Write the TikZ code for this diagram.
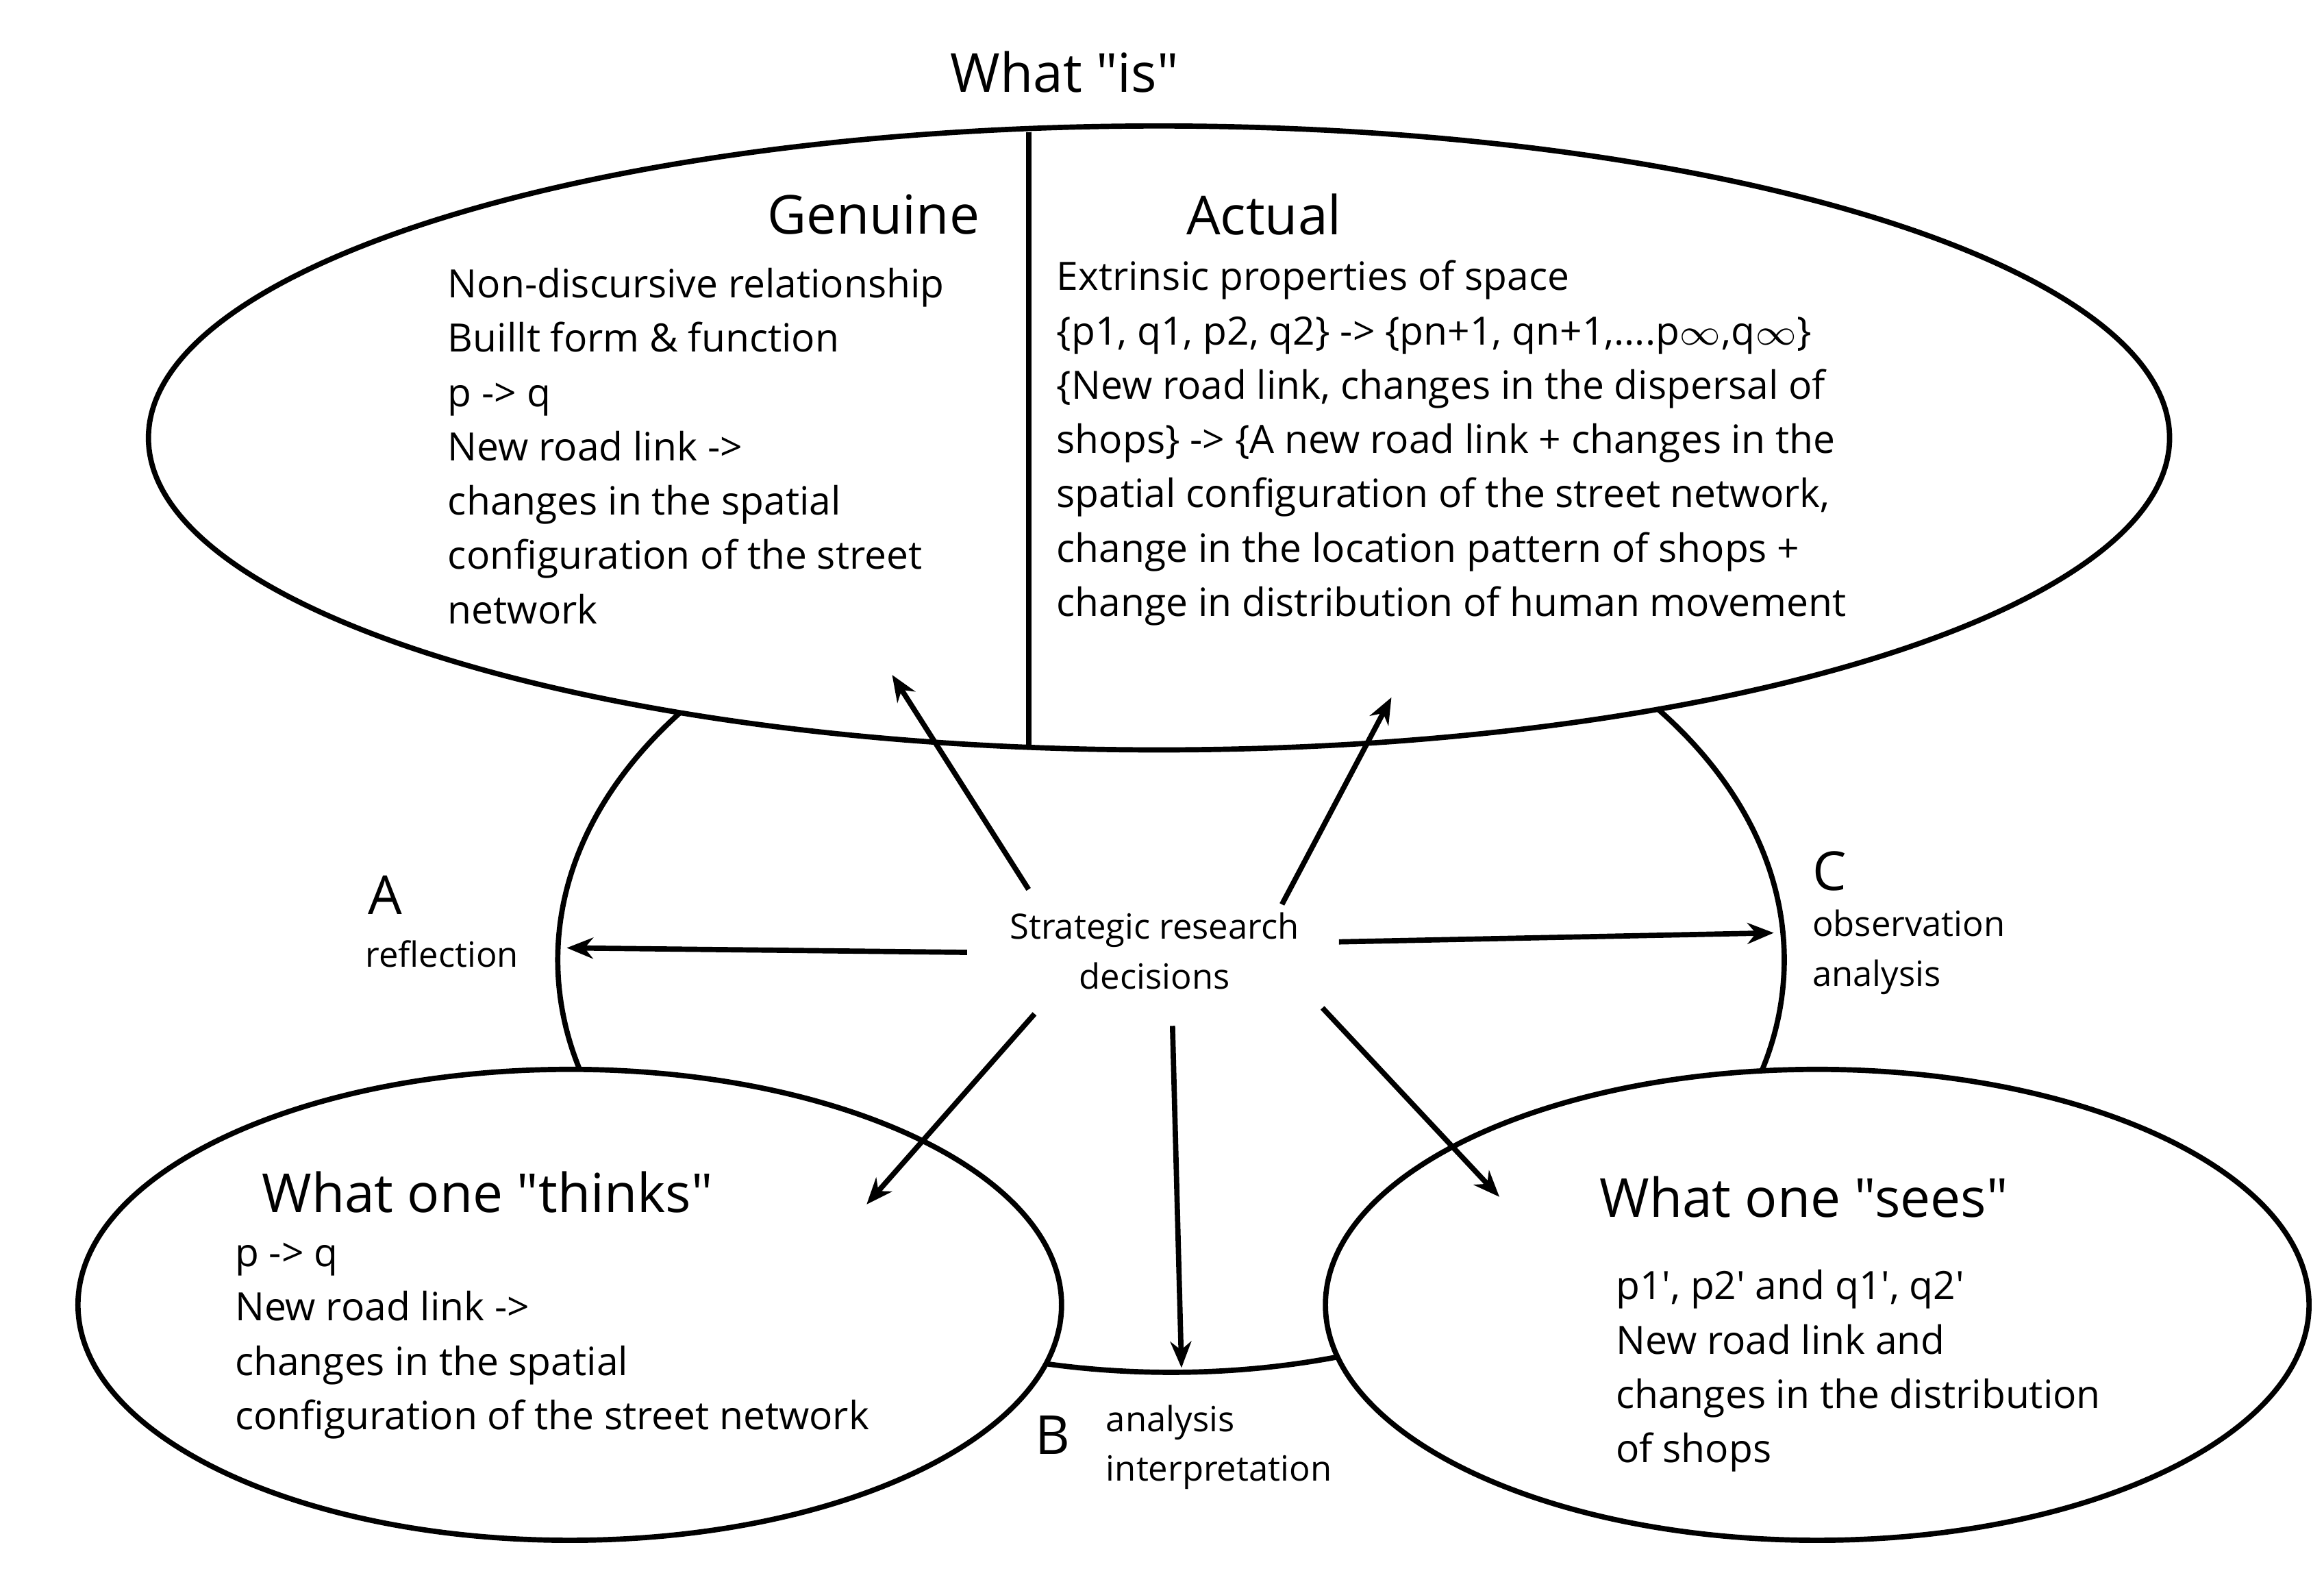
\documentclass[tikz,border=0pt]{standalone}
\usepackage{fontspec}
\setmainfont{Open Sans}[Ligatures=TeXOff]
\usetikzlibrary{positioning,arrows.meta}
\newcommand{\dq}{\symbol{34}}
\newcommand{\sq}{\symbol{39}}
\begin{document}
\begin{tikzpicture}[line width=1pt,
    txt/.style={font=\fontsize{7.4}{10.3}\selectfont,align=left,inner sep=0pt},
    head/.style={font=\fontsize{10.2}{12}\selectfont,inner sep=0pt},
    lbl/.style={font=\fontsize{6.6}{9.4}\selectfont,align=left,inner sep=0pt},
    arr/.style={-{Stealth[length=5pt,width=4pt]},line width=1pt}]
\useasboundingbox (0,0) rectangle (15.5,-10.46);
% the ellipses
\draw (7.81,-6.40) ellipse (4.09 and 2.75);
\draw[fill=white] (7.73,-2.92) ellipse (6.74 and 2.08);
\draw (6.86,-0.88) -- (6.86,-4.98);
\draw[fill=white] (3.80,-8.70) ellipse (3.28 and 1.57);
\draw[fill=white] (12.12,-8.70) ellipse (3.28 and 1.57);
% headings
\node[head] (is) at (7.10,-0.48) {What \dq is\dq};
\node[head,anchor=east] (genuine) at (6.55,-1.43) {Genuine};
\node[head] (actual) at (8.43,-1.43) {Actual};
\node[head] (thinks) at (3.25,-7.95) {What one \dq thinks\dq};
\node[head] (sees) at (12.03,-7.98) {What one \dq sees\dq};
% text blocks
\node[txt,anchor=north west] (gtext) at (2.97,-1.77) {Non-discursive relationship\\Buillt form \& function\\p -> q\\New road link ->\\changes in the spatial\\configuration of the street\\network};
\node[txt,anchor=north west] (atext) at (7.03,-1.72) {Extrinsic properties of space\\\{p1, q1, p2, q2\} -> \{pn+1, qn+1,....p$\infty$,q$\infty$\}\\\{New road link, changes in the dispersal of\\shops\} -> \{A new road link + changes in the\\spatial configuration of the street network,\\change in the location pattern of shops +\\change in distribution of human movement};
\node[txt,anchor=north west] (ttext) at (1.55,-8.27) {p -> q\\New road link ->\\changes in the spatial\\configuration of the street network};
\node[txt,anchor=north west] (stext) at (10.76,-8.45) {p1\sq, p2\sq\ and q1\sq, q2\sq\\New road link and\\changes in the distribution\\of shops};
% side labels
\node[head] (A) at (2.57,-5.97) {A};
\node[lbl,anchor=west] (refl) at (2.42,-6.36) {reflection};
\node[head,anchor=west] (C) at (12.07,-5.81) {C};
\node[lbl,anchor=north west] (obs) at (12.07,-6.05) {observation\\analysis};
\node[head] (B) at (7.02,-9.57) {B};
\node[lbl,anchor=north west] (ana) at (7.36,-9.35) {analysis\\interpretation};
\node[lbl,align=center] (sr) at (7.70,-6.34) {Strategic research\\decisions};
% arrows
\coordinate (g1) at (6.86,-5.93); \coordinate (g2) at (5.95,-4.50);
\coordinate (a1) at (8.55,-6.03); \coordinate (a2) at (9.28,-4.65);
\coordinate (r1) at (6.45,-6.35); \coordinate (r2) at (3.78,-6.32);
\coordinate (c1) at (8.93,-6.28); \coordinate (c2) at (11.83,-6.22);
\coordinate (t1) at (6.90,-6.76); \coordinate (t2) at (5.78,-8.03);
\coordinate (b1) at (7.82,-6.84); \coordinate (b2) at (7.88,-9.12);
\coordinate (s1) at (8.82,-6.72); \coordinate (s2) at (10.00,-7.98);
\foreach \from/\to in {g1/g2,a1/a2,r1/r2,c1/c2,t1/t2,b1/b2,s1/s2}
  \draw[arr] (\from) -- (\to);
\end{tikzpicture}
\end{document}
